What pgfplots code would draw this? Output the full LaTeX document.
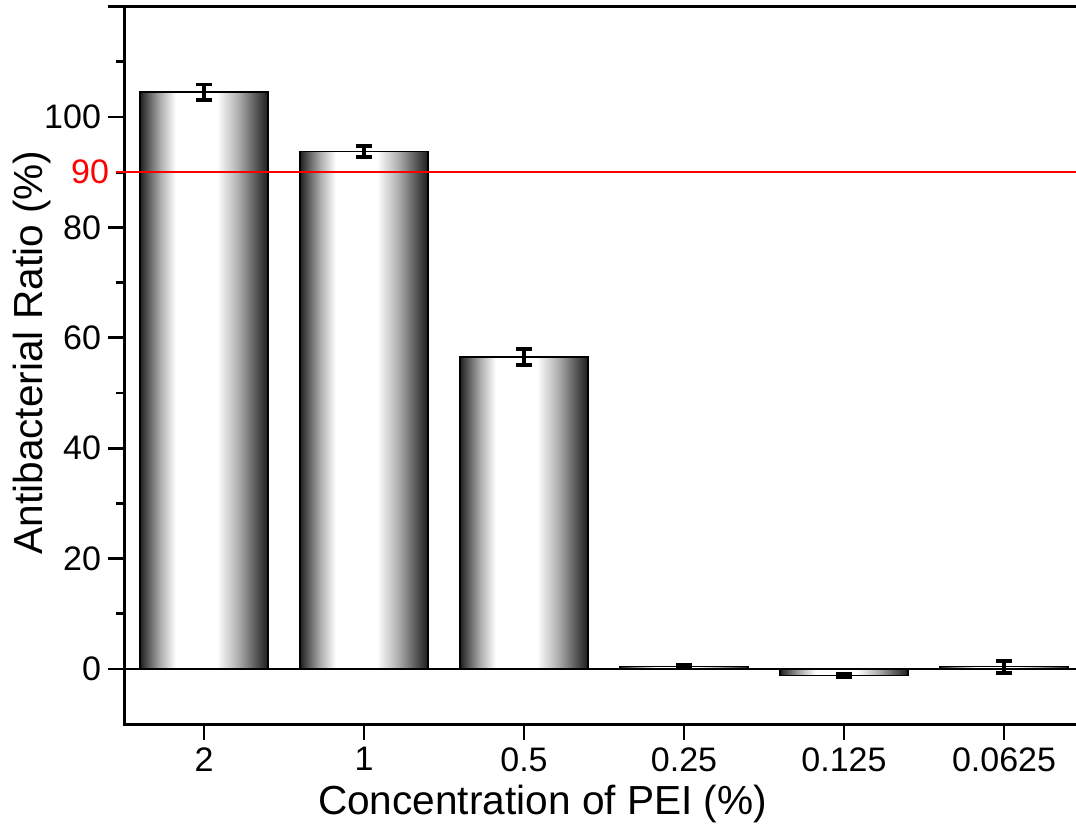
\documentclass[border=0pt]{standalone}
\usepackage{fontspec}
\setmainfont{Liberation Sans}
\usepackage{pgfplots}
\pgfplotsset{compat=1.18}
\pgfdeclarehorizontalshading{barshade}{100bp}{color(0bp)=(black!88); color(25bp)=(black!88); color(28.5bp)=(black!62); color(33bp)=(black!32); color(39bp)=(white); color(55bp)=(white); color(63bp)=(black!30); color(69.5bp)=(black!62); color(75bp)=(black!88); color(100bp)=(black!88)}
\pgfplotsset{mybar/.style={draw=black, line width=0.7pt, shading=barshade, bar shift=0pt,
    error bars/.cd, y dir=both, y explicit,
    error bar style={line width=1.9pt, black},
    error mark options={rotate=90, mark size=4pt, line width=1.9pt, black}}}
\begin{document}
\begin{tikzpicture}
\begin{axis}[
  scale only axis, width=480pt, height=358.8pt,
  xmin=-0.5, xmax=5.5, ymin=-10, ymax=120,
  ybar, bar width=0.8,
  xtick={0,...,5}, xticklabels={2,1,0.5,0.25,0.125,0.0625},
  ytick={0,20,...,120}, yticklabels={0,20,40,60,80,100,{}},
  minor y tick num=1,
  xtick pos=left, ytick pos=left,
  tick align=outside,
  major tick length=8pt, minor tick length=4pt,
  every tick/.style={black, line width=1.4pt},
  axis line style={line width=1.5pt},
  /pgf/number format/assume math mode=true,
  tick label style={font=\fontsize{17}{20}\selectfont},
  label style={font=\fontsize{20.3}{24}\selectfont},
  extra y ticks={90}, extra y tick labels={90},
  extra y tick style={tick label style={red}, major tick length=4pt, every tick/.style={red, line width=1pt}},
  xlabel={Concentration of PEI (\%)},
  ylabel={Antibacterial Ratio (\%)},
  xlabel style={at={(ticklabel cs:0.436)}},
  ylabel style={at={(axis description cs:-0.096,0.518)}, anchor=center},
]
\addplot[mybar] coordinates {(0,104.5) +- (0,1.4)};
\addplot[mybar] coordinates {(1,93.8) +- (0,1.0)};
\addplot[mybar] coordinates {(2,56.5) +- (0,1.5)};
\addplot[mybar] coordinates {(3,0.4) +- (0,0.3)};
\addplot[mybar] coordinates {(4,-1.2) +- (0,0.3)};
\addplot[mybar] coordinates {(5,0.4) +- (0,1.1)};
\addplot[sharp plot, black, line width=1.4pt, forget plot] coordinates {(-0.5,0) (5.5,0)};
\addplot[sharp plot, red, line width=1pt, forget plot] coordinates {(-0.5,90) (5.5,90)};
\coordinate (bl) at (rel axis cs:0,0);
\coordinate (tr) at (rel axis cs:1,1);
\end{axis}
\pgfresetboundingbox
\useasboundingbox ([xshift=-62pt,yshift=-52pt]bl) rectangle ([xshift=-4pt,yshift=3.3pt]tr);
\end{tikzpicture}
\end{document}
